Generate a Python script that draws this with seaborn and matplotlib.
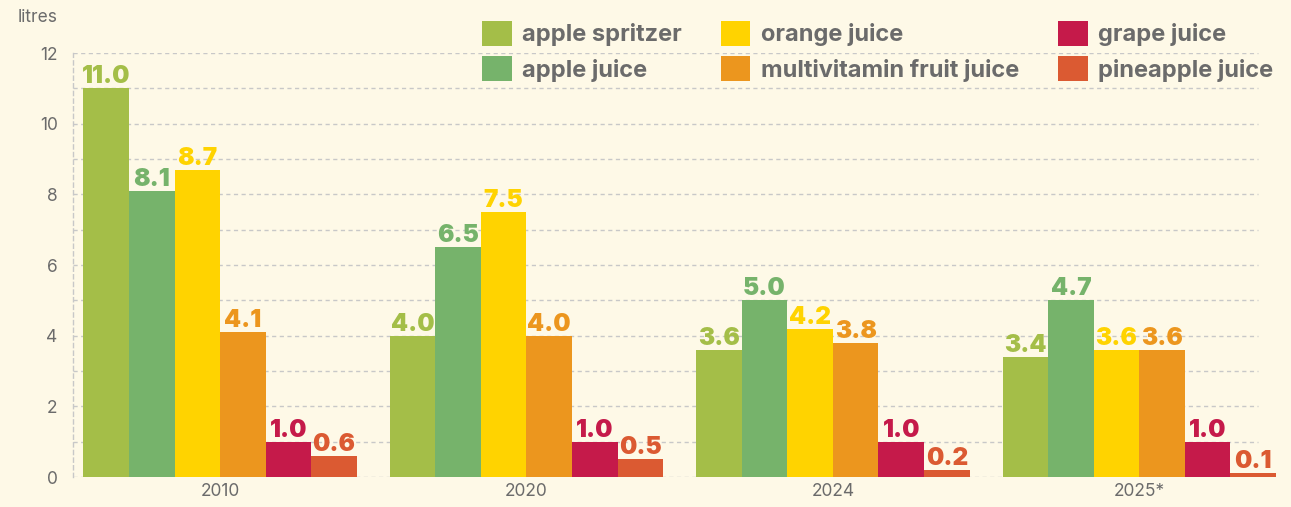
# Per-capita fruit juice consumption chart

import pandas as pd
import numpy as np
import matplotlib.pyplot as plt
import seaborn as sns

# Data
years = ["2010", "2020", "2024", "2025*"]
drinks = ["apple spritzer", "apple juice", "orange juice",
          "multivitamin fruit juice", "grape juice", "pineapple juice"]

apple_spritzer = [11.0, 4.0, 3.6, 3.4]
apple_juice = [8.1, 6.5, 5.0, 5.0]
orange_juice = [8.7, 7.5, 4.2, 3.6]
multivitamin = [4.1, 4.0, 3.8, 3.6]
grape_juice = [1.0, 1.0, 1.0, 1.0]
pineapple_juice = [0.6, 0.5, 0.2, 0.1]

# printed labels (2025 apple juice is labelled 4.7)
apple_juice_labels = ["8.1", "6.5", "5.0", "4.7"]

colors = ["#A4BE48", "#76B36B", "#FFD300", "#EC961E", "#C51A4A", "#DB5A32"]
bg = "#FEF9E7"
grey = "#6B6B6B"

series = [apple_spritzer, apple_juice, orange_juice, multivitamin, grape_juice, pineapple_juice]
df = pd.DataFrame({
    "year": years * len(drinks),
    "drink": np.repeat(drinks, len(years)),
    "litres": np.concatenate(series),
})

sns.set_style("white")
plt.rcParams['font.family'] = ['Inter', 'DejaVu Sans']

fig = plt.figure(figsize=(12.91, 5.07), dpi=100, facecolor=bg)
ax = fig.add_axes([73 / 1291, 30 / 507, 1 - 73 / 1291, (477 - 53) / 507])
ax.set_facecolor(bg)

# Grid lines
x_left, x_right = -0.48, 3.495
grid_end = 3.387
for v in range(0, 13):
    ax.hlines(v, x_left, grid_end, colors="#C8C8C8", linestyles=(0, (3, 2.5)),
              linewidth=1, zorder=0)

sns.barplot(data=df, x="year", y="litres", hue="drink", hue_order=drinks,
            order=years, palette=colors, width=0.892, gap=0, linewidth=0,
            saturation=1, ax=ax, zorder=2, legend=True)

# Value labels
for i, cont in enumerate(ax.containers):
    if i == 1:
        labels = apple_juice_labels
    else:
        labels = ["%.1f" % v for v in series[i]]
    ax.bar_label(cont, labels=labels, color=colors[i], fontsize=17.5,
                 fontweight="black", padding=0)

ax.set_xlim(x_left, x_right)
ax.set_ylim(0, 12)
ax.set_yticks(range(0, 13, 2))
ax.tick_params(axis="both", length=0, labelsize=12.5, labelcolor=grey, pad=11)
ax.tick_params(axis="x", pad=4)
ax.set_xlabel("")
ax.set_ylabel("")

for s in ["top", "right", "bottom"]:
    ax.spines[s].set_visible(False)
ax.spines["left"].set_color("#C8C8C8")
ax.spines["left"].set_linestyle((0, (3, 2.5)))
ax.spines["left"].set_linewidth(1)

fig.text(18 / 1291, 1 - 18 / 507, "litres", fontsize=12.5, color=grey, va="center")

# Legend
handles, labs = ax.get_legend_handles_labels()
ax.legend(handles, labs, ncol=3, loc="upper left",
          bbox_to_anchor=((482 - 73) / 1218, 1 + 32 / 424), frameon=False,
          prop={"weight": "bold", "size": 17}, labelcolor=grey,
          handlelength=1.25, handleheight=1.25, handletextpad=0.45,
          columnspacing=1.65, labelspacing=0.42, borderaxespad=0, borderpad=0)

plt.savefig("out.png", dpi=100, facecolor=bg)
